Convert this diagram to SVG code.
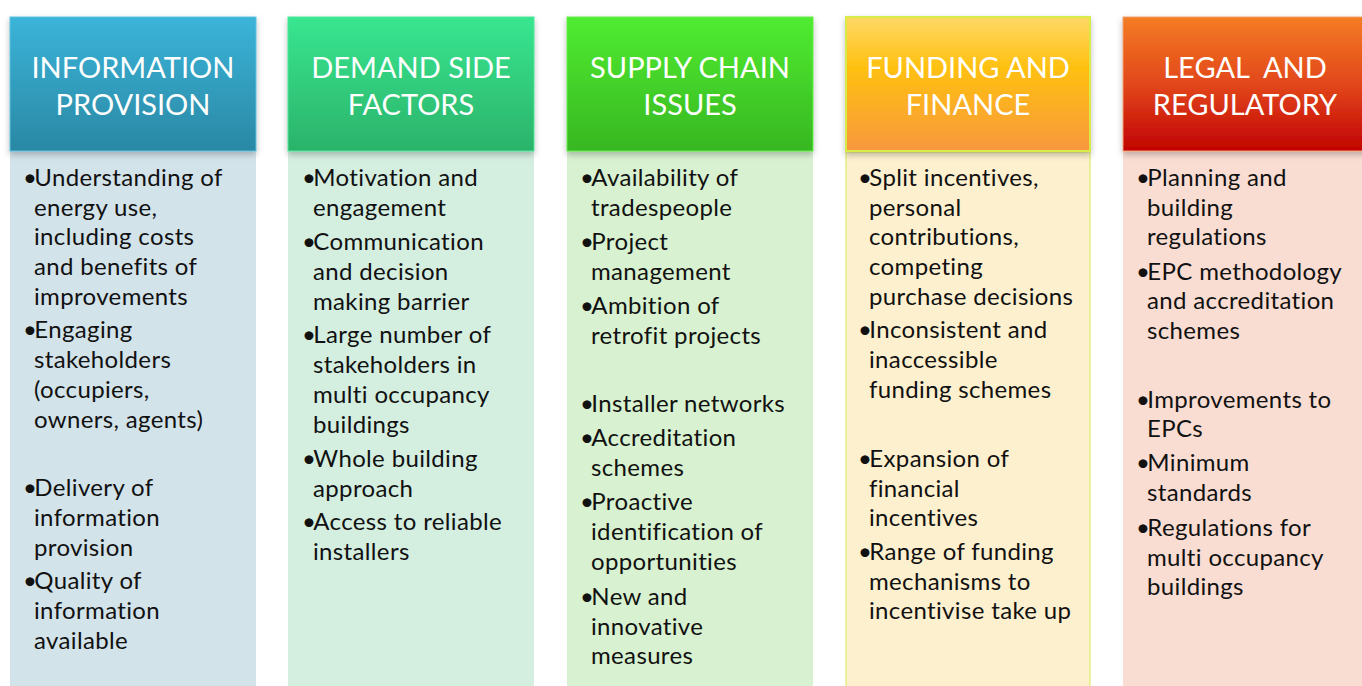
<svg xmlns="http://www.w3.org/2000/svg" width="1362" height="686" viewBox="0 0 1362 686">
<style>
.hd{font-family:Lato,"Liberation Sans",sans-serif;font-size:29px;font-weight:400;fill:#fff;text-anchor:middle;white-space:pre}
.tx{font-family:Lato,"Liberation Sans",sans-serif;font-size:24px;letter-spacing:0.35px;fill:#111}
.b{letter-spacing:-2.6px}
</style>
<defs>
<linearGradient id="g1" x1="0" y1="0" x2="0" y2="1"><stop offset="0" stop-color="#3BB4D9"/><stop offset="1" stop-color="#2A88A4"/></linearGradient>
<linearGradient id="g2" x1="0" y1="0" x2="0" y2="1"><stop offset="0" stop-color="#38E690"/><stop offset="1" stop-color="#2BB36A"/></linearGradient>
<linearGradient id="g3" x1="0" y1="0" x2="0" y2="1"><stop offset="0" stop-color="#50EC31"/><stop offset="1" stop-color="#37B722"/></linearGradient>
<linearGradient id="g4" x1="0" y1="0" x2="0" y2="1"><stop offset="0" stop-color="#FFD966"/><stop offset="0.38" stop-color="#FFC010"/><stop offset="1" stop-color="#F7983E"/></linearGradient>
<linearGradient id="g5" x1="0" y1="0" x2="0" y2="1"><stop offset="0" stop-color="#F47C22"/><stop offset="0.5" stop-color="#E2471C"/><stop offset="1" stop-color="#C10202"/></linearGradient>
<filter id="sh" x="-5%" y="-5%" width="110%" height="115%"><feDropShadow dx="0" dy="3" stdDeviation="3" flood-color="#000" flood-opacity="0.25"/></filter>
</defs>
<rect width="1362" height="686" fill="#fff"/>

<g id="col1">
<rect x="10" y="151" width="246" height="540" fill="#D3E3EA"/>
<rect x="10" y="17" width="246" height="134" fill="url(#g1)" stroke="#5EC2DF" stroke-width="1" filter="url(#sh)"/>
<text class="hd" x="133" y="78">INFORMATION</text>
<text class="hd" x="133" y="115">PROVISION</text>
<text class="tx" x="23" y="186"><tspan class="b">•</tspan>Understanding of</text>
<text class="tx" x="34" y="216">energy use,</text>
<text class="tx" x="34" y="245">including costs</text>
<text class="tx" x="34" y="275">and benefits of</text>
<text class="tx" x="34" y="305">improvements</text>
<text class="tx" x="23" y="338"><tspan class="b">•</tspan>Engaging</text>
<text class="tx" x="34" y="368">stakeholders</text>
<text class="tx" x="34" y="398">(occupiers,</text>
<text class="tx" x="34" y="428">owners, agents)</text>
<text class="tx" x="23" y="496"><tspan class="b">•</tspan>Delivery of</text>
<text class="tx" x="34" y="526">information</text>
<text class="tx" x="34" y="556">provision</text>
<text class="tx" x="23" y="589"><tspan class="b">•</tspan>Quality of</text>
<text class="tx" x="34" y="619">information</text>
<text class="tx" x="34" y="649">available</text>
</g>

<g id="col2">
<rect x="288" y="151" width="246" height="540" fill="#D4EEE0"/>
<rect x="288" y="17" width="246" height="134" fill="url(#g2)" stroke="#4EE59C" stroke-width="1" filter="url(#sh)"/>
<text class="hd" x="411" y="78">DEMAND SIDE</text>
<text class="hd" x="411" y="115">FACTORS</text>
<text class="tx" x="302" y="186"><tspan class="b">•</tspan>Motivation and</text>
<text class="tx" x="313" y="216">engagement</text>
<text class="tx" x="302" y="250"><tspan class="b">•</tspan>Communication</text>
<text class="tx" x="313" y="280">and decision</text>
<text class="tx" x="313" y="310">making barrier</text>
<text class="tx" x="302" y="343"><tspan class="b">•</tspan>Large number of</text>
<text class="tx" x="313" y="373">stakeholders in</text>
<text class="tx" x="313" y="403">multi occupancy</text>
<text class="tx" x="313" y="433">buildings</text>
<text class="tx" x="302" y="467"><tspan class="b">•</tspan>Whole building</text>
<text class="tx" x="313" y="497">approach</text>
<text class="tx" x="302" y="530"><tspan class="b">•</tspan>Access to reliable</text>
<text class="tx" x="313" y="560">installers</text>
</g>

<g id="col3">
<rect x="567" y="151" width="246" height="540" fill="#D8F1D0"/>
<rect x="567" y="17" width="246" height="134" fill="url(#g3)" stroke="#62EE48" stroke-width="1" filter="url(#sh)"/>
<text class="hd" x="690" y="78">SUPPLY CHAIN</text>
<text class="hd" x="690" y="115">ISSUES</text>
<text class="tx" x="580" y="186"><tspan class="b">•</tspan>Availability of</text>
<text class="tx" x="591" y="216">tradespeople</text>
<text class="tx" x="580" y="250"><tspan class="b">•</tspan>Project</text>
<text class="tx" x="591" y="280">management</text>
<text class="tx" x="580" y="314"><tspan class="b">•</tspan>Ambition of</text>
<text class="tx" x="591" y="344">retrofit projects</text>
<text class="tx" x="580" y="412"><tspan class="b">•</tspan>Installer networks</text>
<text class="tx" x="580" y="446"><tspan class="b">•</tspan>Accreditation</text>
<text class="tx" x="591" y="476">schemes</text>
<text class="tx" x="580" y="510"><tspan class="b">•</tspan>Proactive</text>
<text class="tx" x="591" y="540">identification of</text>
<text class="tx" x="591" y="570">opportunities</text>
<text class="tx" x="580" y="605"><tspan class="b">•</tspan>New and</text>
<text class="tx" x="591" y="635">innovative</text>
<text class="tx" x="591" y="664">measures</text>
</g>

<g id="col4">
<rect x="846" y="152" width="244" height="540" fill="#FDF0CE" stroke="#E4EE80" stroke-width="1.5"/>
<rect x="846" y="17" width="244" height="134" fill="url(#g4)" stroke="#D8EB4A" stroke-width="2" filter="url(#sh)"/>
<text class="hd" x="968" y="78">FUNDING AND</text>
<text class="hd" x="968" y="115">FINANCE</text>
<text class="tx" x="858" y="186"><tspan class="b">•</tspan>Split incentives,</text>
<text class="tx" x="869" y="216">personal</text>
<text class="tx" x="869" y="245">contributions,</text>
<text class="tx" x="869" y="275">competing</text>
<text class="tx" x="869" y="305">purchase decisions</text>
<text class="tx" x="858" y="338"><tspan class="b">•</tspan>Inconsistent and</text>
<text class="tx" x="869" y="368">inaccessible</text>
<text class="tx" x="869" y="398">funding schemes</text>
<text class="tx" x="858" y="467"><tspan class="b">•</tspan>Expansion of</text>
<text class="tx" x="869" y="497">financial</text>
<text class="tx" x="869" y="526">incentives</text>
<text class="tx" x="858" y="560"><tspan class="b">•</tspan>Range of funding</text>
<text class="tx" x="869" y="590">mechanisms to</text>
<text class="tx" x="869" y="619">incentivise take up</text>
</g>

<g id="col5">
<rect x="1123" y="151" width="246" height="540" fill="#F9DDD2"/>
<rect x="1123" y="17" width="246" height="134" fill="url(#g5)" stroke="#F0A070" stroke-width="1" filter="url(#sh)"/>
<text class="hd" x="1245" y="78">LEGAL  AND</text>
<text class="hd" x="1245" y="115">REGULATORY</text>
<text class="tx" x="1136" y="186"><tspan class="b">•</tspan>Planning and</text>
<text class="tx" x="1147" y="216">building</text>
<text class="tx" x="1147" y="245">regulations</text>
<text class="tx" x="1136" y="280"><tspan class="b">•</tspan>EPC methodology</text>
<text class="tx" x="1147" y="309">and accreditation</text>
<text class="tx" x="1147" y="339">schemes</text>
<text class="tx" x="1136" y="408"><tspan class="b">•</tspan>Improvements to</text>
<text class="tx" x="1147" y="437">EPCs</text>
<text class="tx" x="1136" y="471"><tspan class="b">•</tspan>Minimum</text>
<text class="tx" x="1147" y="501">standards</text>
<text class="tx" x="1136" y="536"><tspan class="b">•</tspan>Regulations for</text>
<text class="tx" x="1147" y="566">multi occupancy</text>
<text class="tx" x="1147" y="595">buildings</text>
</g>
</svg>
